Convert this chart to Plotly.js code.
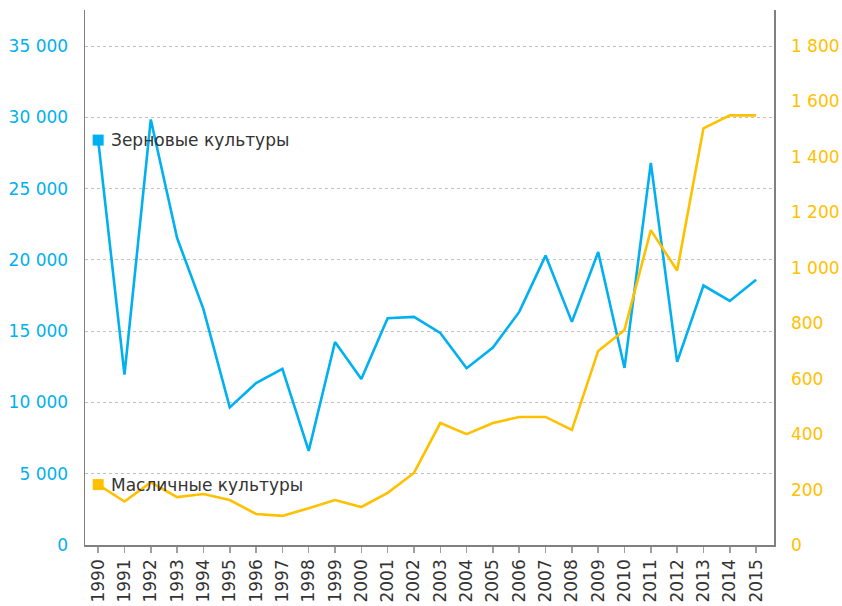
<!DOCTYPE html>
<html>
<head>
<meta charset="utf-8">
<script src="https://cdn.plot.ly/plotly-3.0.1.min.js"></script>
<style>html,body{margin:0;padding:0;background:#fff}#chart{width:842px;height:606px}</style>
</head>
<body>
<div id="chart"></div>
<script>
const years = [1990,1991,1992,1993,1994,1995,1996,1997,1998,1999,2000,2001,2002,2003,2004,2005,2006,2007,2008,2009,2010,2011,2012,2013,2014,2015];
const grainName = "Зерновые культуры";
const oilName = "Масличные культуры";
const grain = [28400,11950,29850,21530,16550,9650,11360,12350,6600,14240,11640,15900,16000,14870,12400,13850,16350,20300,15650,20550,12420,26800,12850,18200,17120,18600];
const oil = [218,157,226,173,184,162,112,105,133,162,137,188,260,440,400,440,462,462,415,700,776,1136,990,1503,1550,1550];

const blue = "#00B0F0", yellow = "#FFC000", txt = "#333333", axisGray = "#808080";

const traces = [
  {x: years, y: grain, type: "scatter", mode: "lines", name: grainName,
   line: {color: blue, width: 2.6}, yaxis: "y"},
  {x: years, y: oil, type: "scatter", mode: "lines", name: oilName,
   line: {color: yellow, width: 2.6}, yaxis: "y2"},
  {x: years.slice(0,1), y: grain.slice(0,1), type: "scatter", mode: "markers", name: grainName,
   marker: {symbol: "square", size: 11, color: blue}, yaxis: "y"},
  {x: years.slice(0,1), y: oil.slice(0,1), type: "scatter", mode: "markers", name: oilName,
   marker: {symbol: "square", size: 11, color: yellow}, yaxis: "y2"}
];

const layout = {
  width: 842, height: 606,
  margin: {l: 85, r: 68, t: 10, b: 61},
  paper_bgcolor: "#fff", plot_bgcolor: "#fff",
  showlegend: false,
  separators: ", ",
  font: {family: "DejaVu Sans, Verdana, sans-serif", size: 17, color: txt},
  xaxis: {
    range: [1989.5, 2015.68], tickmode: "linear", tick0: 1990, dtick: 1, tickformat: "d",
    tickangle: -90, showgrid: false, zeroline: false,
    showline: true, linecolor: axisGray, linewidth: 1.5,
    ticks: "outside", ticklen: 6, tickcolor: "#A0A0A0", tickwidth: 1.5,
    tickfont: {size: 17, color: txt}
  },
  yaxis: {
    range: [0, 37525], tickmode: "linear", tick0: 0, dtick: 5000, tickformat: ",d",
    showgrid: true, gridcolor: "#C0C0C0", gridwidth: 1, griddash: "3px,3px",
    zeroline: false, showline: true, linecolor: axisGray, linewidth: 1.5,
    ticks: "outside", ticklen: 12, tickcolor: "rgba(0,0,0,0)",
    tickfont: {size: 17, color: blue}
  },
  yaxis2: {
    range: [0, 1930], overlaying: "y", side: "right", tickmode: "linear", tick0: 0, dtick: 200, tickformat: ",d",
    showgrid: false, zeroline: false, showline: true, linecolor: axisGray, linewidth: 1.5,
    ticks: "outside", ticklen: 12, tickcolor: "rgba(0,0,0,0)",
    tickfont: {size: 17, color: yellow}
  },
  annotations: [
    {x: years[0], y: grain[0], xref: "x", yref: "y", text: grainName, showarrow: false,
     xanchor: "left", yanchor: "middle", xshift: 11, font: {size: 17, color: txt}},
    {x: years[0], y: oil[0], xref: "x", yref: "y2", text: oilName, showarrow: false,
     xanchor: "left", yanchor: "middle", xshift: 11, font: {size: 17, color: txt}}
  ]
};

Plotly.newPlot("chart", traces, layout, {displayModeBar: false, staticPlot: true});
</script>
</body>
</html>
